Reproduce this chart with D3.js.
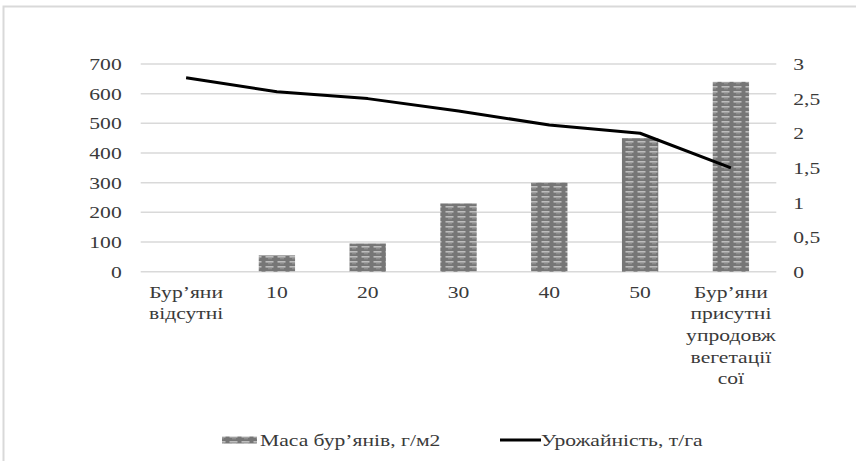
<!DOCTYPE html>
<html><head><meta charset="utf-8">
<script src="https://cdn.jsdelivr.net/npm/d3@7"></script>
<style>html,body{margin:0;padding:0;background:#fff;}svg{display:block;}
svg text{font-family:"Liberation Serif","Times New Roman","DejaVu Serif",serif;}</style>
</head><body>
<svg id="chart" width="856" height="461"></svg>
<script>
const categories = [
  ["Бур’яни","відсутні"],
  ["10"],["20"],["30"],["40"],["50"],
  ["Бур’яни","присутні","упродовж","вегетації","сої"]
];
const weedMass = [0, 55, 95, 230, 300, 450, 640];
const yieldVals = [2.8, 2.6, 2.5, 2.32, 2.12, 2.0, 1.5];
const leftTicks = [0,100,200,300,400,500,600,700];
const rightTicks = [0,0.5,1,1.5,2,2.5,3];
const rightTickLabels = ["0","0,5","1","1,5","2","2,5","3"];
const seriesNames = ["Маса бур’янів, г/м2","Урожайність, т/га"];

const SX = 1.35, FS = 16, TXT = "#3a3a3a";
const svg = d3.select("#chart");
const keys = categories.map((c,i)=>"c"+i);

// border
svg.append("rect").attr("x",3.5).attr("y",6.5).attr("width",870).attr("height",470)
  .attr("fill","none").attr("stroke","#d9d9d9").attr("stroke-width",2);

// pattern
const defs = svg.append("defs");
const pat = defs.append("pattern").attr("id","bp").attr("patternUnits","userSpaceOnUse")
  .attr("width",12).attr("height",5);
pat.append("rect").attr("width",12).attr("height",5).attr("fill","#767676");
pat.append("rect").attr("x",1.5).attr("y",1).attr("width",8).attr("height",1.6).attr("fill","#bdbdbd");
pat.append("rect").attr("x",4).attr("y",3.4).attr("width",4).attr("height",0.8).attr("fill","#9a9a9a");

const x = d3.scaleBand().domain(keys).range([140.7,776.3]).paddingInner(0.6).paddingOuter(0.3);
const yL = d3.scaleLinear().domain([0,700]).range([271.7,64]);
const yR = d3.scaleLinear().domain([0,3]).range([271.7,64]);

// gridlines
svg.append("g").selectAll("line").data(leftTicks).join("line")
  .attr("x1",140.7).attr("x2",776.3).attr("y1",d=>yL(d)).attr("y2",d=>yL(d))
  .attr("stroke","#d9d9d9").attr("stroke-width",1.5);

function styleTicks(g, xoff, anchor){
  g.attr("font-family",null).attr("font-size",null);
  g.select(".domain").remove();
  g.selectAll(".tick line").remove();
  g.selectAll(".tick text").attr("x",xoff/SX).attr("dy","0.35em")
    .attr("transform",`scale(${SX},1)`).attr("text-anchor",anchor)
    .style("font-size",FS+"px").attr("fill",TXT);
}
svg.append("g").attr("transform","translate(140.7,0)")
  .call(d3.axisLeft(yL).tickValues(leftTicks).tickFormat(d3.format("d")))
  .call(g=>styleTicks(g,-19,"end"));
svg.append("g").attr("transform","translate(776.3,0)")
  .call(d3.axisRight(yR).tickValues(rightTicks).tickFormat((d,i)=>rightTickLabels[i]))
  .call(g=>styleTicks(g,17,"start"));

// bars
svg.append("g").selectAll("rect").data(weedMass).join("rect")
  .attr("x",(d,i)=>x(keys[i])).attr("width",x.bandwidth())
  .attr("y",d=>yL(d)).attr("height",d=>yL(0)-yL(d))
  .attr("fill","url(#bp)");

// line
const line = d3.line().x((d,i)=>x(keys[i])+x.bandwidth()/2).y(d=>yR(d));
svg.append("path").datum(yieldVals).attr("d",line).attr("fill","none")
  .attr("stroke","#000").attr("stroke-width",3).attr("stroke-linejoin","round");

// category labels
categories.forEach((lines,i)=>{
  const cx = x(keys[i])+x.bandwidth()/2;
  lines.forEach((t,j)=>{
    svg.append("text").attr("transform",`translate(${cx},${297.5+j*21.7}) scale(${SX},1)`)
      .attr("text-anchor","middle").style("font-size",FS+"px")
      .attr("fill",TXT).text(t);
  });
});

// legend
svg.append("rect").attr("x",222).attr("y",436.5).attr("width",35).attr("height",7).attr("fill","url(#bp)");
svg.append("text").attr("transform",`translate(260,446) scale(${SX},1)`)
  .style("font-size",FS+"px").attr("fill",TXT).text(seriesNames[0]);
svg.append("line").attr("x1",500).attr("x2",541).attr("y1",440).attr("y2",440)
  .attr("stroke","#000").attr("stroke-width",3);
svg.append("text").attr("transform",`translate(541,446) scale(${SX},1)`)
  .style("font-size",FS+"px").attr("fill",TXT).text(seriesNames[1]);
</script>
</body></html>
